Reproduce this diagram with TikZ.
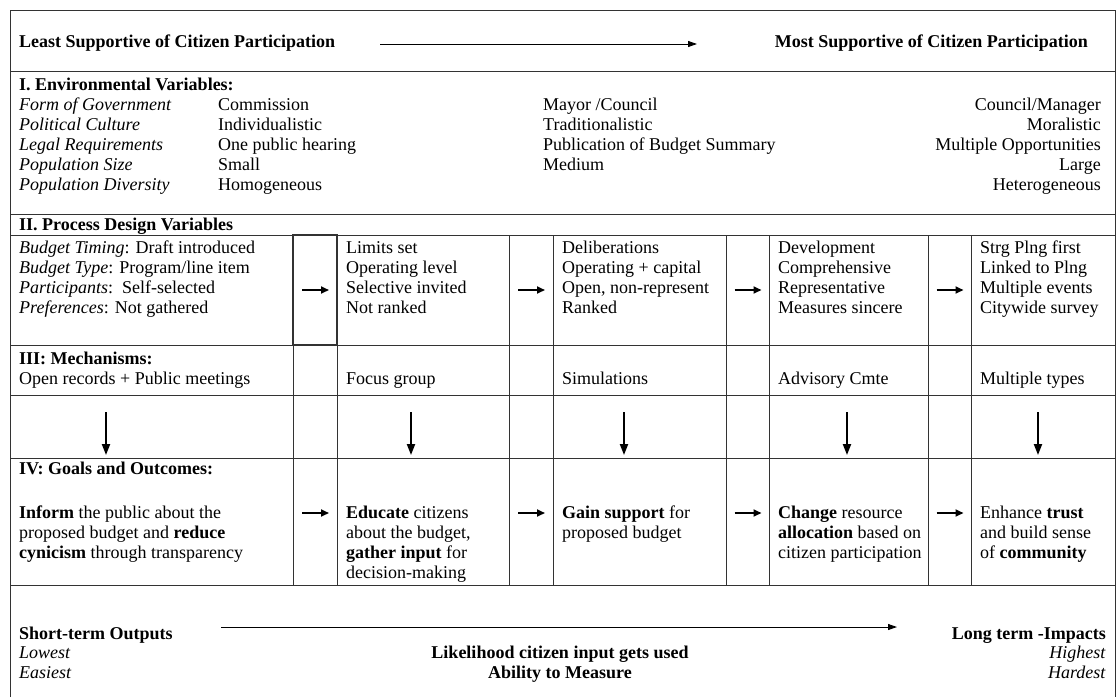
\documentclass[tikz,border=0pt]{standalone}
\usepackage{fontspec}
\setmainfont{Liberation Serif}
\usetikzlibrary{arrows.meta}
\newcommand\fsz{\fontsize{18}{20}\selectfont}
% one node per text line, 20pt apart: name, x, first baseline, lines
\newcommand\linesleft[4]{%
  \foreach \t [count=\i] in {#4} {
    \node[txt, name=#1-\i] at (#2, {#3+20*(\i-1)}) {\t};
  }}
\newcommand\linesright[4]{%
  \foreach \t [count=\i] in {#4} {
    \node[txtr, name=#1-\i] at (#2, {#3+20*(\i-1)}) {\t};
  }}
\begin{document}
\begin{tikzpicture}[x=1pt,y=-1pt,
  grid/.style={draw=black!80,line width=1pt},
  txt/.style={anchor=base west,inner sep=0pt,font=\fsz},
  txtr/.style={anchor=base east,inner sep=0pt,font=\fsz},
  btxt/.style={txt,font=\fsz\bfseries},
  btxtr/.style={txtr,font=\fsz\bfseries},
  btxtc/.style={anchor=base,inner sep=0pt,font=\fsz\bfseries},
  longarrow/.style={line width=0.9pt,-{Triangle[length=9pt,width=6pt]}},
  harrow/.style={line width=1.8pt,-{Triangle[length=8pt,width=7pt]}},
  varrow/.style={line width=2pt,-{Triangle[length=11pt,width=8pt]}}]
\useasboundingbox (0,0) rectangle (1120,697);

% frame and rules
\draw[grid] (10,697) -- (10,10) -- (1115,10) -- (1115,697);
\foreach \yy in {71,214,235,345,395,458,585}
  \draw[grid] (10,\yy) -- (1115,\yy);
\foreach \xx in {293,337,509,553,726,769,928,971}
  \draw[grid] (\xx,235) -- (\xx,585);
% first arrow cell of the process row is a box of its own
\draw[draw=black!80,line width=1.1pt] (293,235) rectangle (337,345);
\draw[draw=black!80,line width=2pt] (293,345) -- (337,345);

% header
\node[btxt] (least) at (19,47.5) {Least Supportive of Citizen Participation};
\node[btxtr] (most) at (1088,47.5) {Most Supportive of Citizen Participation};
\coordinate (topA) at (380,44);
\coordinate (topB) at (697,44);
\draw[longarrow] (topA) -- (topB);

% I. environmental variables
\node[btxt] (envtitle) at (19,90) {I. Environmental Variables:};
\linesleft{envlab}{19}{110}{\textit{Form of Government},\textit{Political Culture},\textit{Legal Requirements},\textit{Population Size},\textit{Population Diversity}}
\linesleft{envlow}{218}{110}{Commission,Individualistic,One public hearing,Small,Homogeneous}
\linesleft{envmid}{543}{110}{Mayor /Council,Traditionalistic,Publication of Budget Summary,Medium}
\linesright{envhigh}{1101}{110}{Council/Manager,Moralistic,Multiple Opportunities,Large,Heterogeneous}

% II. process design variables
\node[btxt] (proctitle) at (19,230.5) {II. Process Design Variables};
\linesleft{procA}{19}{253}{\textit{Budget Timing}: Draft introduced,\textit{Budget Type}: Program/line item,\textit{Participants}:\ \ Self-selected,\textit{Preferences}: Not gathered}
\linesleft{procB}{346}{253}{Limits set,Operating level,Selective invited,Not ranked}
\linesleft{procC}{562}{253}{Deliberations,Operating + capital,{Open, non-represent},Ranked}
\linesleft{procD}{778}{253}{Development,Comprehensive,Representative,Measures sincere}
\linesleft{procE}{980}{253}{Strg Plng first,Linked to Plng,Multiple events,Citywide survey}

% III. mechanisms
\node[btxt] (mechtitle) at (19,364) {III: Mechanisms:};
\node[txt] (mechA) at (19,384) {Open records + Public meetings};
\node[txt] (mechB) at (346,384) {Focus group};
\node[txt] (mechC) at (562,384) {Simulations};
\node[txt] (mechD) at (778,384) {Advisory Cmte};
\node[txt] (mechE) at (980,384) {Multiple types};

% downward arrows from mechanisms to outcomes
\foreach \xx [count=\k] in {106,411,624,847,1038} {
  \coordinate (vtop\k) at (\xx,412);
  \coordinate (vbot\k) at (\xx,455);
  \draw[varrow] (vtop\k) -- (vbot\k);
}

% IV. goals and outcomes
\node[btxt] (goaltitle) at (19,474) {IV: Goals and Outcomes:};
\linesleft{goalA}{19}{518}{\textbf{Inform} the public about the,proposed budget and \textbf{reduce},\textbf{cynicism} through transparency}
\linesleft{goalB}{346}{518}{\textbf{Educate} citizens,{about the budget,},\textbf{gather input} for,decision-making}
\linesleft{goalC}{562}{518}{\textbf{Gain support} for,proposed budget}
\linesleft{goalD}{778}{518}{\textbf{Change} resource,\textbf{allocation} based on,citizen participation}
\linesleft{goalE}{980}{518}{Enhance \textbf{trust},and build sense,of \textbf{community}}

% rightward arrows between stages
\foreach \cx [count=\k] in {315,531,747.5,949.5} {
  \coordinate (pA\k) at ({\cx-13},290);
  \coordinate (pB\k) at ({\cx+14},290);
  \draw[harrow] (pA\k) -- (pB\k);
  \coordinate (gA\k) at ({\cx-13},513);
  \coordinate (gB\k) at ({\cx+14},513);
  \draw[harrow] (gA\k) -- (gB\k);
}

% bottom scale
\node[btxt] (short) at (19,639) {Short-term Outputs};
\node[txt] (lowest) at (19,658) {\textit{Lowest}};
\node[txt] (easiest) at (19,678) {\textit{Easiest}};
\node[btxtr] (long) at (1106,639) {Long term -Impacts};
\node[txtr] (highest) at (1106,658) {\textit{Highest}};
\node[txtr] (hardest) at (1106,678) {\textit{Hardest}};
\node[btxtc] (likely) at (560,658) {Likelihood citizen input gets used};
\node[btxtc] (measure) at (560,678) {Ability to Measure};
\coordinate (botA) at (221,627);
\coordinate (botB) at (897,627);
\draw[longarrow] (botA) -- (botB);
\end{tikzpicture}
\end{document}
